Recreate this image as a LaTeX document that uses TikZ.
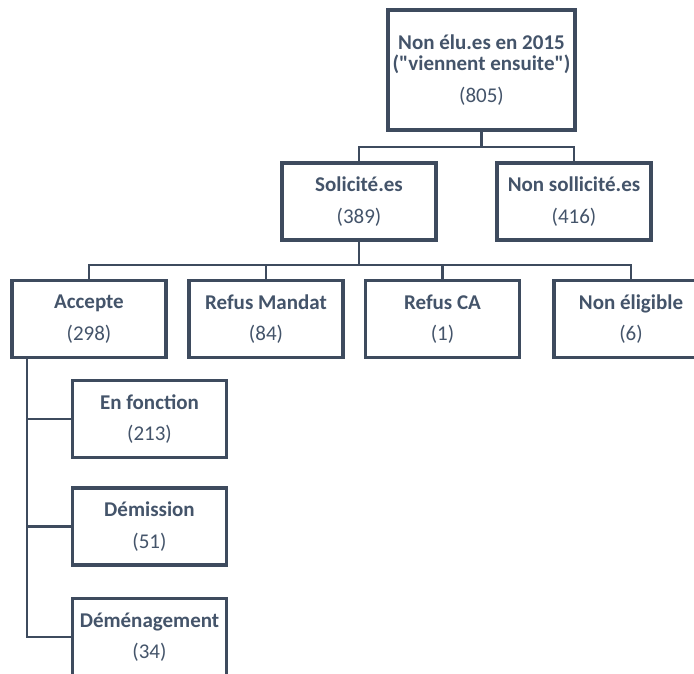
\documentclass[tikz,border=0pt]{standalone}
\usepackage{fontspec}
\setmainfont{Carlito}
\newfontfamily\qfont{Carlito}
\newcommand{\dq}{{\qfont\bfseries\char34}}
\usetikzlibrary{calc}
\definecolor{boxline}{HTML}{3E4B5E}
\definecolor{boxtext}{HTML}{44546A}
\begin{document}
\begin{tikzpicture}[x=1pt,y=-1pt,
  orgbox/.style={draw=boxline,line width=3.8pt,fill=white,text=boxtext,
    minimum width=154pt,minimum height=77pt,inner sep=0pt,align=center,
    font=\fontsize{21}{21.5}\selectfont},
  conn/.style={draw=boxline,line width=2.6pt}]
\useasboundingbox (0,0) rectangle (694,673);
\clip (0,0) rectangle (694,673);
% boxes
\node[orgbox,minimum width=187pt,minimum height=120pt] (top) at (481.5,70)
  {\textbf{Non élu.es en 2015}\\\textbf{(\dq viennent ensuite\dq)}\\[10.5pt](805)};
\node[orgbox] (sol) at (359,201.5) {\textbf{Solicité.es}\\[10pt](389)};
\node[orgbox] (nonsol) at (574,201.5) {\textbf{Non sollicité.es}\\[10pt](416)};
\node[orgbox] (acc) at (89,319) {\textbf{Accepte}\\[10pt](298)};
\node[orgbox] (rm) at (266,319) {\textbf{Refus Mandat}\\[10pt](84)};
\node[orgbox] (rca) at (442.5,319) {\textbf{Refus CA}\\[10pt](1)};
\node[orgbox] (ne) at (631,319) {\textbf{Non éligible}\\[10pt](6)};
\node[orgbox] (enf) at (149.5,419) {\textbf{En fonction}\\[10pt](213)};
\node[orgbox] (dem) at (149.5,526.5) {\textbf{Démission}\\[10pt](51)};
\node[orgbox] (demen) at (149.5,637) {\textbf{Déménagement}\\[10pt](34)};
% connectors
\coordinate (b1) at (481.5,147);
\coordinate (b2) at (359,265);
\coordinate (v) at (27,357);
\draw[conn] (top.south) -- (b1);
\draw[conn] (sol.north) |- (b1) -| (nonsol.north);
\draw[conn] (sol.south) -- (b2);
\draw[conn] (acc.north) -- (acc.north |- b2) -- (ne.north |- b2) -- (ne.north);
\draw[conn] (rm.north) -- (rm.north |- b2);
\draw[conn] (rca.north) -- (rca.north |- b2);
\draw[conn] (v) |- (demen.west);
\draw[conn] (v |- enf.west) -- (enf.west);
\draw[conn] (v |- dem.west) -- (dem.west);
\end{tikzpicture}
\end{document}
